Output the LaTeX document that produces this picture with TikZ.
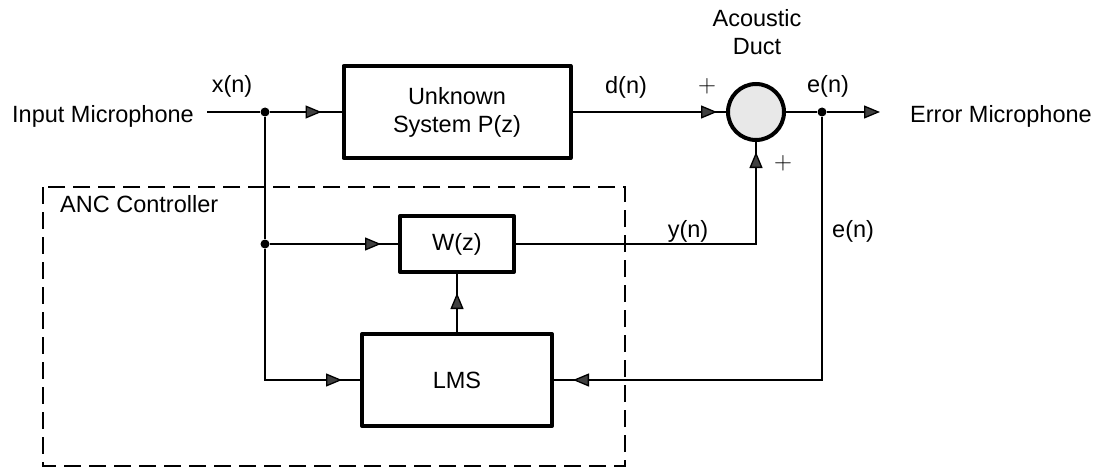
\documentclass[tikz,border=0pt]{standalone}
\usepackage{fontspec}
\setmainfont{Liberation Sans}
\usetikzlibrary{arrows.meta,decorations.markings}

\begin{document}
\begin{tikzpicture}[x=1pt,y=-1pt,
    every node/.style={inner sep=0pt,font=\fontsize{23.5}{28}\selectfont},
    >={Triangle[length=16pt,width=13pt,fill=black!75]},
    senal/.style={line width=1.3pt},
    bloque/.style={draw,line width=4pt,line join=round,align=center},
    punto/.style={circle,fill,minimum size=9pt},
    flecha/.style={postaction={decorate},
      decoration={markings,mark=at position #1 with {\arrow{>}}}}]
  \useasboundingbox (0,0) rectangle (1099,468);
  % Controlador
  \draw[line width=1.3pt,dash pattern=on 17pt off 8pt] (43,187) rectangle (625,466);
  \node[anchor=base west] (anc) at (60,212) {ANC Controller};
  % Bloques
  \node[bloque,minimum width=227pt,minimum height=92pt] (P) at (457,112) {Unknown\\System P(z)};
  \node[bloque,minimum width=114pt,minimum height=56pt] (W) at (457,244) {W(z)};
  \node[bloque,minimum width=190pt,minimum height=92pt] (LMS) at (457,380) {LMS};
  \node[circle,draw,line width=4pt,fill=black!9,minimum size=56pt] (suma) at (756,112) {};
  % Puntos
  \coordinate (ent) at (207,112);
  \coordinate (sal) at (880,112);
  \node[punto] (jx) at (265,112) {};
  \node[punto] (jw) at (265,244) {};
  \node[punto] (je) at (822,112) {};
  % Conexiones
  \draw[senal] (ent) -- (jx);
  \draw[senal,flecha=-20pt] (jx) -- (P);
  \draw[senal] (jx) -- (jw);
  \draw[senal,flecha=-17pt] (jw) -- (W);
  \draw[senal,flecha=-18pt] (jw) |- (LMS);
  \draw[senal,flecha=-19pt] (LMS) -- (W);
  \draw[senal,flecha=-9pt] (P) -- (suma);
  \draw[senal,flecha=-10pt] (W) -| (suma);
  \draw[senal] (suma) -- (je);
  \draw[senal,->] (je) -- (sal);
  \draw[senal,flecha=-19pt] (je) |- (LMS);
  % Textos
  \node[anchor=base west] (mic1) at (12,123) {Input Microphone};
  \node[anchor=base west] (mic2) at (910,122) {Error Microphone};
  \node[anchor=base] (xn) at (232,93) {x(n)};
  \node[anchor=base] (dn) at (626,94) {d(n)};
  \node[anchor=base] (en1) at (828,93) {e(n)};
  \node[anchor=base] (yn) at (688,237) {y(n)};
  \node[anchor=base west] (en2) at (832,237) {e(n)};
  \node[align=center,anchor=north] (ducto) at (757,9) {Acoustic\\Duct};
  \node (mas1) at (707,86) {$+$};
  \node (mas2) at (783,163) {$+$};
\end{tikzpicture}
\end{document}
